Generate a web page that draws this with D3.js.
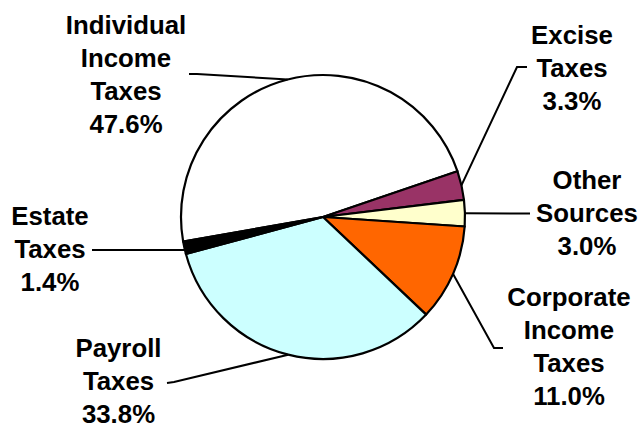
<!DOCTYPE html>
<html><head><meta charset="utf-8">
<script src="https://cdn.jsdelivr.net/npm/d3@7"></script>
<style>body{margin:0;background:#fff}svg{display:block}</style>
</head><body><svg id="c" width="642" height="426"></svg>
<script>
const categories = ["Individual Income Taxes","Excise Taxes","Other Sources","Corporate Income Taxes","Payroll Taxes","Estate Taxes"];
const labelLines = [["Individual","Income","Taxes"],["Excise","Taxes"],["Other","Sources"],["Corporate","Income","Taxes"],["Payroll","Taxes"],["Estate","Taxes"]];
const values = [47.6, 3.3, 3.0, 11.0, 33.8, 1.4];
const colors = ["#FFFFFF","#993366","#FFFFCC","#FF6600","#CCFFFF","#000000"];

// layout
const cx = 323, cy = 217, R = 142;
const startDeg = -100;
const labelPos = [ // centre x, first baseline y
  {x:126, y:33.5}, {x:572, y:43.5}, {x:587, y:188.5}, {x:569, y:305.5}, {x:118.5, y:356.5}, {x:50, y:225}
];
const leaders = [ // outer points (from label side) before reaching pie
  [[189,74],[197,74]],
  [[527,67],[517,67]],
  [[530,213.5]],
  [[503,348],[494,348]],
  [[167,383],[174,382]],
  [[92,250],[100,250]]
];
const horizontalLeader = [false,false,false,false,false,true];

const svg = d3.select("#c");
const pie = d3.pie().sort(null).value(d=>d)
  .startAngle(startDeg*Math.PI/180).endAngle((startDeg+360)*Math.PI/180);
const arcs = pie(values);
const arc = d3.arc().innerRadius(0).outerRadius(R);
const g = svg.append("g").attr("transform",`translate(${cx},${cy})`);
g.selectAll("path").data(arcs).join("path")
  .attr("d",arc).attr("fill",(d,i)=>colors[i])
  .attr("stroke","#000").attr("stroke-width",2.2).attr("stroke-linejoin","round");

// leader lines
arcs.forEach((a,i)=>{
  const m = (a.startAngle+a.endAngle)/2;
  let p = [cx + R*Math.sin(m), cy - R*Math.cos(m)];
  if (horizontalLeader[i]) {
    const last = leaders[i][leaders[i].length-1];
    const dy = last[1]-cy;
    const dx = Math.sqrt(R*R-dy*dy);
    p = [cx + (p[0] < cx ? -dx : dx), last[1]];
  }
  const pts = leaders[i].concat([p]);
  svg.append("path").attr("d", d3.line()(pts)).attr("fill","none")
    .attr("stroke","#000").attr("stroke-width",2);
});

// labels
const lh = 33;
labelLines.forEach((lines,i)=>{
  const t = svg.append("text").attr("text-anchor","middle")
    .attr("font-family","'Liberation Sans', Arial, sans-serif")
    .attr("font-weight","bold").attr("font-size",25.8).attr("fill","#000");
  const all = lines.concat([values[i].toFixed(1)+"%"]);
  all.forEach((s,k)=>{
    t.append("tspan").attr("x",labelPos[i].x).attr("y",labelPos[i].y + k*lh).text(s);
  });
});
</script></body></html>
